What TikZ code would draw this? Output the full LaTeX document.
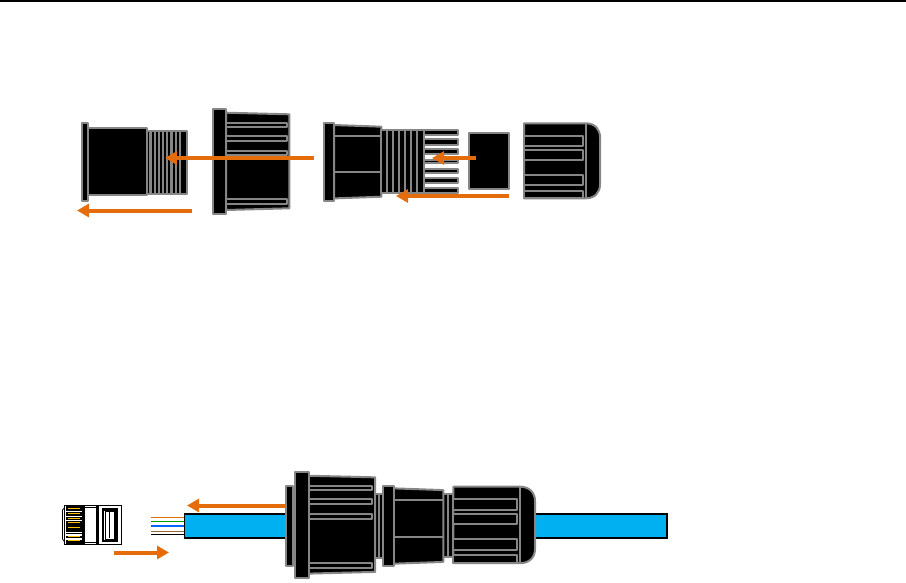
\documentclass[tikz,border=0pt]{standalone}
\usetikzlibrary{arrows.meta}
\definecolor{orangeA}{HTML}{E46C0A}
\definecolor{partgray}{HTML}{868686}
\definecolor{cableblue}{HTML}{00B0F0}
\definecolor{contactyellow}{HTML}{FFC000}
\tikzset{
  part/.style={fill=black,draw=partgray,line width=2pt,line join=round},
  seam/.style={draw=partgray,line width=2pt},
  moveArrow/.style={draw=orangeA,line width=4pt,-{Triangle[length=12pt,width=13pt]}},
  wire/.style={line width=#1},
  plugframe/.style={draw=black,fill=white,line width=1.1pt}
}
% nut with domed cap, local size 76 x 75
\newcommand{\nutshape}{
  \draw[part] (0,0) -- (62,0) .. controls (71,0) and (76,6) .. (76,14) -- (76,61)
     .. controls (76,69) and (71,75) .. (62,75) -- (0,75) -- cycle;
  \foreach \ya/\yb in {12.4/22.4,26.7/37,51.7/62,67.4/75}
    {\draw[part] (0,\ya) rectangle (59.3,\yb);}
  \draw[seam] (62,0) -- (62,75);
}
% coupling with large flange, local size 76 x 104.7
\newcommand{\couplingshape}{
  \draw[part] (12.7,3.4) -- (76,5) -- (76,99) -- (12.7,100.7) -- cycle;
  \foreach \ya/\yb in {13.4/17.4,26.9/31.4,41.4/46,89.7/94.7}
    {\draw[part] (13,\ya) rectangle (73.3,\yb);}
  \draw[part] (0,0) rectangle (12.7,104.7);
}
% body with flange, local size 57.3 x 78
\newcommand{\bodyshape}{
  \draw[part] (10,2.3) -- (57.3,4) -- (57.3,74) -- (10,75.7) -- cycle;
  \draw[seam] (10,13.3) -- (57.3,13.3);
  \draw[seam] (10,49.6) -- (57.3,49.6);
  \draw[part] (0,0) rectangle (10,78);
}
\begin{document}
\begin{tikzpicture}[x=1pt,y=-1pt]
\useasboundingbox (0,0) rectangle (906,582);
\fill[black] (0,0) rectangle (906,1.5);

% --- upper row: part 1
\draw[part] (146.7,130.7) rectangle (186.7,194);
\foreach \x in {150.5,154.7,158.9,163.1,167.3,171.5,175.7}
  {\draw[draw=partgray,line width=2.3pt] (\x,130.7) -- (\x,194);}
\draw[draw=partgray,line width=2pt] (179.7,130.7) -- (179.7,194);
\draw[part] (88,128.3) rectangle (146.7,195);
\draw[part] (81.5,122.7) rectangle (88,200.7);

% part 2
\begin{scope}[shift={(213.3,109.3)}]\couplingshape\end{scope}

% part 3
\begin{scope}[shift={(324,122.7)}]\bodyshape\end{scope}
\draw[part] (381.3,130) rectangle (424,192.7);
\foreach \x in {386.7,392.7,398.7,404.7,410.7,416.7}
  {\draw[seam] (\x,130) -- (\x,192.7);}
\foreach \ya/\yb in {130/134.7,139.3/144.7,149.3/154,160/163.3,169/173.3,178.3/182.7,187.7/192.7}
  {\draw[part] (424,\ya) rectangle (458.3,\yb);}

% part 4
\draw[part] (469.3,133.3) rectangle (509.3,189.3);

% part 5
\begin{scope}[shift={(524,123.3)}]\nutshape\end{scope}

% --- lower row: cable and wires
\draw[wire=0.8pt,draw=orangeA] (151,517.3) -- (184.3,517.3);
\draw[wire=0.8pt,draw=green!60!black] (151,521.3) -- (184.3,521.3);
\draw[wire=1.6pt,draw=blue!60!cyan] (151,525.7) -- (184.3,525.7);
\draw[wire=0.9pt,draw=brown!80!black] (151,531.3) -- (184.3,531.3);
\draw[wire=1.5pt,draw=black] (151,534.7) -- (184.3,534.7);
\draw[fill=cableblue,draw=black,line width=1.4pt] (184.5,514) rectangle (667,538);

% assembly
\draw[part] (375,494.3) rectangle (383.3,558.3);
\draw[seam] (379,494.3) -- (379,558.3);
\draw[part] (443.3,494) rectangle (453.3,557);
\draw[seam] (448,494) -- (448,557);
\draw[part] (293.3,493) rectangle (295.3,560);
\draw[part] (285.7,485.7) rectangle (293.3,566);
\begin{scope}[shift={(295.3,472.3)},xscale=1.05,yscale=1.006]\couplingshape\end{scope}
\begin{scope}[shift={(383.3,486)},xscale=1.047,yscale=1.026]\bodyshape\end{scope}
\begin{scope}[shift={(453.3,486.7)},xscale=1.075,yscale=1.02]\nutshape\end{scope}

% RJ45 plug
\draw[draw=black,line width=0.8pt,fill=white] (64.3,508) -- (62.5,510) -- (62.5,539) -- (64.3,541.5);
\draw[plugframe] (64.3,505.3) rectangle (121.7,544.3);
\fill[black] (66,506) rectangle (81.5,543.6);
\foreach \y in {511,515.8,520.2,532,534.3,538.4}
  {\fill[white] (66,\y) rectangle (81.5,\y+1.2);}
\foreach \y in {508.3,513.5,518.2,522.5,527.3,536.2,540.8}
  {\fill[contactyellow] (67.7,\y-0.5) rectangle (79.5,\y+0.5);}
\fill[black] (82,505.3) rectangle (85,544.3);
\fill[black] (95.5,505.3) rectangle (98.5,544.3);
\draw[draw=black,line width=0.8pt] (85,507) -- (95.5,507);
\draw[draw=black,line width=0.8pt] (85,542.5) -- (95.5,542.5);
\draw[draw=black,line width=2.4pt] (102.8,509.3) rectangle (116.6,540.7);
\draw[draw=black,line width=0.8pt] (105,511) rectangle (114,539);
\draw[draw=black,line width=0.8pt] (109.3,512) -- (109.3,538);

% --- arrows
\coordinate (a1s) at (314,158); \coordinate (a1e) at (165,158);
\coordinate (a2s) at (192,210.5); \coordinate (a2e) at (77,210.5);
\coordinate (a3s) at (476,158); \coordinate (a3e) at (432,158);
\coordinate (a4s) at (509,196); \coordinate (a4e) at (396,196);
\coordinate (a5s) at (286,505.5); \coordinate (a5e) at (187,505.5);
\coordinate (a6s) at (114,552.5); \coordinate (a6e) at (169,552.5);
\foreach \n in {1,...,6}{\draw[moveArrow] (a\n s) -- (a\n e);}
\end{tikzpicture}
\end{document}
